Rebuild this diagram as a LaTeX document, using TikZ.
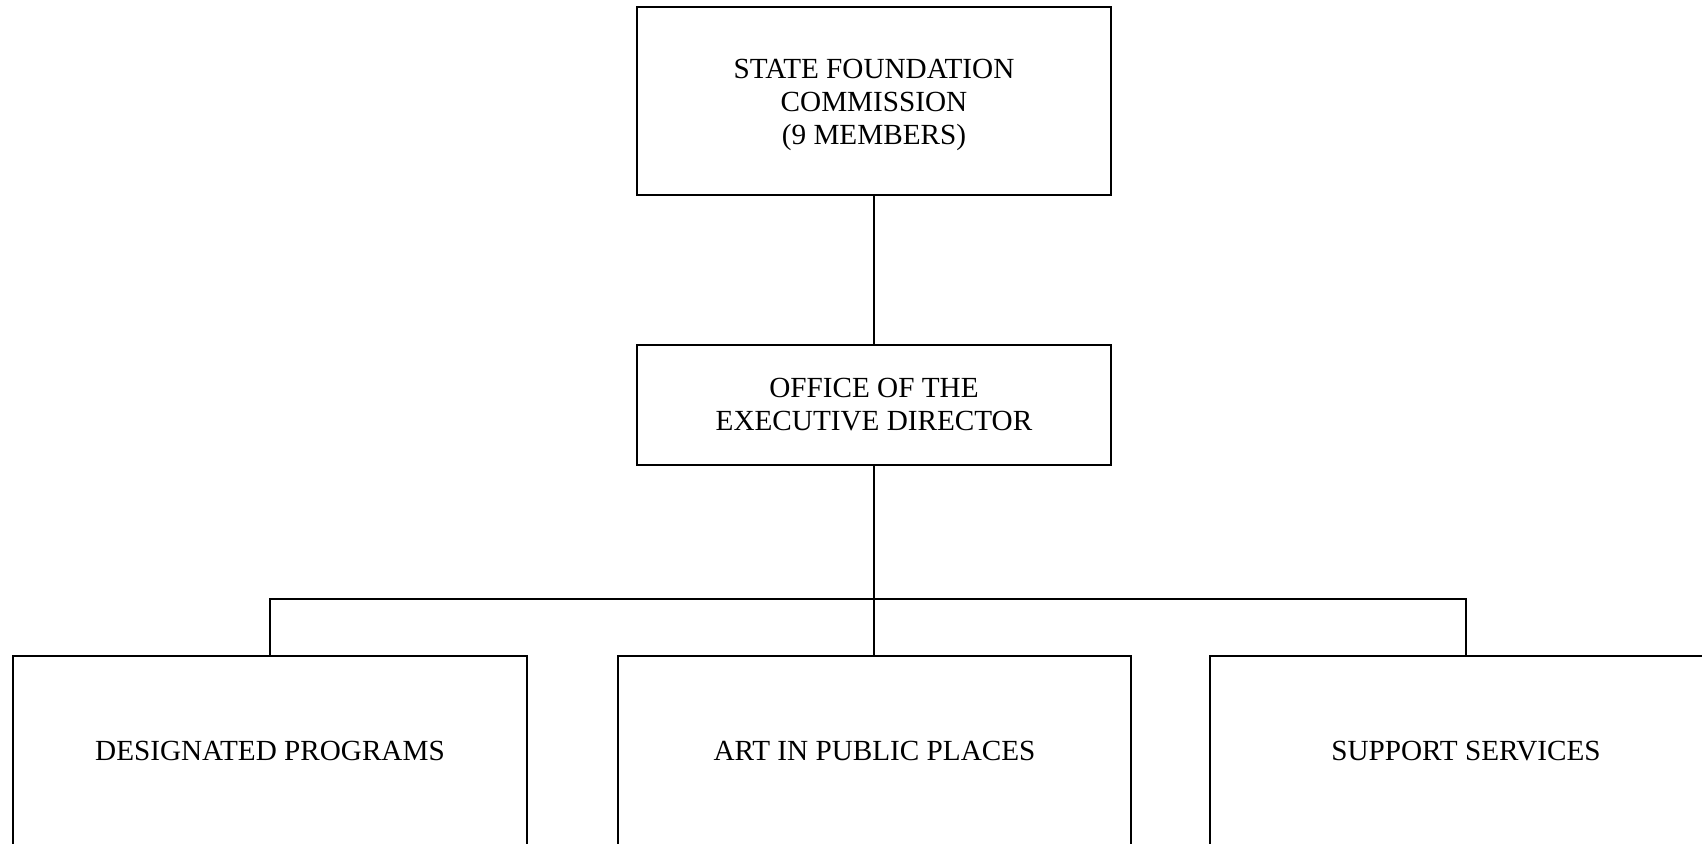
\documentclass[tikz,border=0pt]{standalone}
\usepackage{fontspec}
\setmainfont{Liberation Serif}
\begin{document}
\begin{tikzpicture}[x=1pt,y=-1pt,
  box/.style={draw=black,line width=1.3pt,inner sep=0pt,align=center,
    font=\fontsize{29.2}{33}\selectfont},
  link/.style={draw=black,line width=1.3pt}]
\useasboundingbox (0,0) rectangle (1702,843);
\clip (0,0) rectangle (1702,843);
\node[box,minimum width=474pt,minimum height=188pt] (sfc) at (874,101)
  {\raisebox{-4pt}[\height][\depth]{\begin{tabular}{@{}c@{}}STATE FOUNDATION\\COMMISSION\\(9 MEMBERS)\end{tabular}}};
\node[box,minimum width=474pt,minimum height=120pt] (oed) at (874,405)
  {OFFICE OF THE\\EXECUTIVE DIRECTOR};
\node[box,minimum width=514pt,minimum height=190pt] (dp) at (270,751)
  {DESIGNATED PROGRAMS};
\node[box,minimum width=513pt,minimum height=190pt] (aipp) at (874.5,751)
  {ART IN PUBLIC PLACES};
\node[box,minimum width=512pt,minimum height=190pt] (ss) at (1466,751)
  {SUPPORT SERVICES};
\coordinate (bus) at (874,599);
\path[link] (sfc.south) -- (oed.north);
\path[link] (oed.south) -- (aipp.north -| oed.south);
\path[link] (dp.north) |- (bus) -| (ss.north);
\end{tikzpicture}
\end{document}
